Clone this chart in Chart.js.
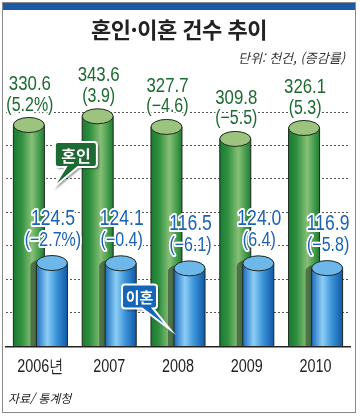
<!DOCTYPE html>
<html lang="ko">
<head>
<meta charset="utf-8">
<script src="https://cdn.jsdelivr.net/npm/chart.js@4.4.1/dist/chart.umd.min.js"></script>
<style>
  body { margin: 0; background: #fff; }
  #wrap { position: relative; width: 360px; height: 416px; overflow: hidden; background: #fff; }
  #frame { position: absolute; left: 2px; top: 2px; width: 352px; height: 409px; border: 1px solid #8a8a8a; }
  #band { position: absolute; left: 3px; top: 3px; width: 352px; height: 7px; background: #1d5aa5; }
  #title { position: absolute; left: 0; width: 358px; top: 12px; text-align: center;
           font: 700 22px 'Noto Sans CJK KR', sans-serif; color: #222; letter-spacing: -0.5px; }
  #unit { position: absolute; right: 15px; top: 48px; font: italic 13px 'Noto Sans CJK KR', sans-serif; color: #333; }
  #source { position: absolute; left: 8px; top: 389px; font: italic 12px 'Noto Sans CJK KR', sans-serif; color: #222; }
  canvas { position: absolute; left: 0; top: 0; }
</style>
</head>
<body>
<div id="wrap">
  <canvas id="chart" width="360" height="416"></canvas>
  <div id="frame"></div>
  <div id="band"></div>
  <div id="title">혼인·이혼 건수 추이</div>
  <div id="unit">단위: 천건, (증감률)</div>
  <div id="source">자료/ 통계청</div>
</div>
<script>
// 데이터
const years = ['2006년', '2007', '2008', '2009', '2010'];
const marriages = [330.6, 343.6, 327.7, 309.8, 326.1];
const marriageRates = ['5.2%', '3.9', '−4.6', '−5.5', '5.3'];
const divorces = [124.5, 124.1, 116.5, 124.0, 116.9];
const divorceRates = ['−2.7%', '−0.4', '−6.1', '6.4', '−5.8'];
const yMax = 350;
const yStep = 50;

// 좁은 글꼴이 없어서 가로로 눌러 그림
const NUM_FONT = "'Liberation Sans', Arial, sans-serif";
const KR_FONT = "'Noto Sans CJK KR', sans-serif";
const SQUEEZE = 0.8;

const styles = [
  {
    stops: [[0, '#1a7a32'], [0.25, '#2e8f3e'], [0.6, '#88bf77'], [0.85, '#3f9a4a'], [1, '#227933']],
    top: '#9dc47e', text: '#1b6b30', rates: marriageRates,
    off1: 41, off2: 20, size1: 21, size2: 20, shadow: false
  },
  {
    stops: [[0, '#1c6dc2'], [0.35, '#8ccef4'], [0.65, '#3b93d8'], [1, '#1158a8']],
    top: '#6db7ea', text: '#1a62b5', rates: divorceRates,
    off1: 44, off2: 23, size1: 22, size2: 20, shadow: true
  }
];

function cylinderPath(ctx, cx, top, base, r, ry) {
  ctx.beginPath();
  ctx.moveTo(cx - r, base);
  ctx.lineTo(cx - r, top);
  ctx.ellipse(cx, top, r, ry, 0, Math.PI, 2 * Math.PI);
  ctx.lineTo(cx + r, base);
  ctx.closePath();
}

function drawCylinder(ctx, cx, top, base, st) {
  const r = 15.5, ry = 7.5;
  ctx.save();
  if (st.shadow) {
    ctx.fillStyle = 'rgba(30,40,30,0.5)';
    cylinderPath(ctx, cx - 6, top + 3, base, r, ry);
    ctx.fill();
  }
  const g = ctx.createLinearGradient(cx - r, 0, cx + r, 0);
  st.stops.forEach(s => g.addColorStop(s[0], s[1]));
  ctx.fillStyle = g;
  cylinderPath(ctx, cx, top, base, r, ry);
  ctx.fill();
  ctx.strokeStyle = '#1d2a1f';
  ctx.lineWidth = 1;
  ctx.beginPath();
  ctx.moveTo(cx - r, base); ctx.lineTo(cx - r, top);
  ctx.moveTo(cx + r, base); ctx.lineTo(cx + r, top);
  ctx.stroke();
  ctx.beginPath();
  ctx.ellipse(cx, top, r, ry, 0, 0, 2 * Math.PI);
  ctx.fillStyle = st.top;
  ctx.fill();
  ctx.stroke();
  ctx.restore();
}

function squeezedText(ctx, text, x, y, font, color, halo) {
  ctx.save();
  ctx.translate(x, y);
  ctx.scale(SQUEEZE, 1);
  ctx.font = font;
  ctx.textAlign = 'center';
  ctx.textBaseline = 'middle';
  if (halo) {
    ctx.lineWidth = 4;
    ctx.strokeStyle = '#fff';
    ctx.lineJoin = 'round';
    ctx.strokeText(text, 0, 0);
  }
  ctx.fillStyle = color;
  ctx.fillText(text, 0, 0);
  ctx.restore();
}

function drawCallout(ctx, x, y, w, h, tb1, tb2, tip, fill, text, size) {
  const r = 3;
  ctx.save();
  ctx.beginPath();
  ctx.moveTo(x + r, y);
  ctx.lineTo(x + w - r, y);
  ctx.quadraticCurveTo(x + w, y, x + w, y + r);
  ctx.lineTo(x + w, y + h - r);
  ctx.quadraticCurveTo(x + w, y + h, x + w - r, y + h);
  ctx.lineTo(tb2, y + h);
  ctx.lineTo(tip[0], tip[1]);
  ctx.lineTo(tb1, y + h);
  ctx.lineTo(x + r, y + h);
  ctx.quadraticCurveTo(x, y + h, x, y + h - r);
  ctx.lineTo(x, y + r);
  ctx.quadraticCurveTo(x, y, x + r, y);
  ctx.closePath();
  ctx.shadowColor = 'rgba(0,0,0,0.4)';
  ctx.shadowOffsetX = 2;
  ctx.shadowOffsetY = 2;
  ctx.shadowBlur = 2;
  ctx.fillStyle = fill;
  ctx.fill();
  ctx.shadowColor = 'transparent';
  ctx.strokeStyle = '#fff';
  ctx.lineWidth = 2;
  ctx.stroke();
  ctx.fillStyle = '#fff';
  ctx.font = '700 ' + size + 'px ' + KR_FONT;
  ctx.textAlign = 'center';
  ctx.textBaseline = 'middle';
  ctx.fillText(text, x + w / 2, y + h / 2 + 1);
  ctx.restore();
}

const cylinderPlugin = {
  id: 'cylinders',
  afterDatasetsDraw(chart) {
    const ctx = chart.ctx;
    chart.data.datasets.forEach((ds, i) => {
      chart.getDatasetMeta(i).data.forEach(bar => {
        drawCylinder(ctx, bar.x, bar.y, bar.base, styles[i]);
      });
    });

    // 값 라벨
    chart.data.datasets.forEach((ds, i) => {
      const st = styles[i];
      chart.getDatasetMeta(i).data.forEach((bar, j) => {
        const x = bar.x + 1;
        squeezedText(ctx, ds.data[j].toFixed(1), x, bar.y - st.off1, st.size1 + 'px ' + NUM_FONT, st.text, true);
        squeezedText(ctx, '(' + st.rates[j] + ')', x, bar.y - st.off2, st.size2 + 'px ' + NUM_FONT, st.text, true);
      });
    });

    // 말풍선
    const m = chart.getDatasetMeta(0).data[0];
    const bx = m.x + 26, by = m.y + 17;
    drawCallout(ctx, bx, by, 42, 25, bx + 11, bx + 23, [m.x + 24, m.y + 63], '#1d6a34', '혼인', 16);

    const d = chart.getDatasetMeta(1).data[2];
    const dx = d.x - 67.5, dy = d.y + 16;
    drawCallout(ctx, dx, dy, 35, 24, dx + 20, dx + 31, [d.x - 19.5, d.y + 61], '#1566b8', '이혼', 15);
  },
  afterDraw(chart) {
    // x축 라벨 (축 위치는 Chart.js 눈금에서 가져옴)
    const sx = chart.scales.x;
    const y = sx.bottom - 11;
    years.forEach((lab, i) => {
      squeezedText(chart.ctx, lab, sx.getPixelForTick(i), y, '18px ' + NUM_FONT, '#222', false);
    });
  }
};

new Chart(document.getElementById('chart'), {
  type: 'bar',
  data: {
    labels: years,
    datasets: [
      { label: '혼인', data: marriages, backgroundColor: 'rgba(0,0,0,0)', borderWidth: 0 },
      { label: '이혼', data: divorces, backgroundColor: 'rgba(0,0,0,0)', borderWidth: 0 }
    ]
  },
  options: {
    responsive: false,
    animation: false,
    events: [],
    layout: { padding: { left: 6, right: 10, top: 112, bottom: 38 } },
    datasets: { bar: { categoryPercentage: 0.67, barPercentage: 1 } },
    plugins: { legend: { display: false }, tooltip: { enabled: false } },
    scales: {
      x: {
        grid: { display: false, drawTicks: false },
        border: { display: true, color: '#222', width: 1.5 },
        ticks: { color: 'rgba(0,0,0,0)', padding: 5, font: { family: NUM_FONT, size: 18 } }
      },
      y: {
        min: 0, max: yMax,
        ticks: { display: false, stepSize: yStep },
        grid: { color: '#555', lineWidth: 1, drawTicks: false },
        border: { display: false, dash: [2, 2] }
      }
    }
  },
  plugins: [cylinderPlugin]
});
</script>
</body>
</html>
